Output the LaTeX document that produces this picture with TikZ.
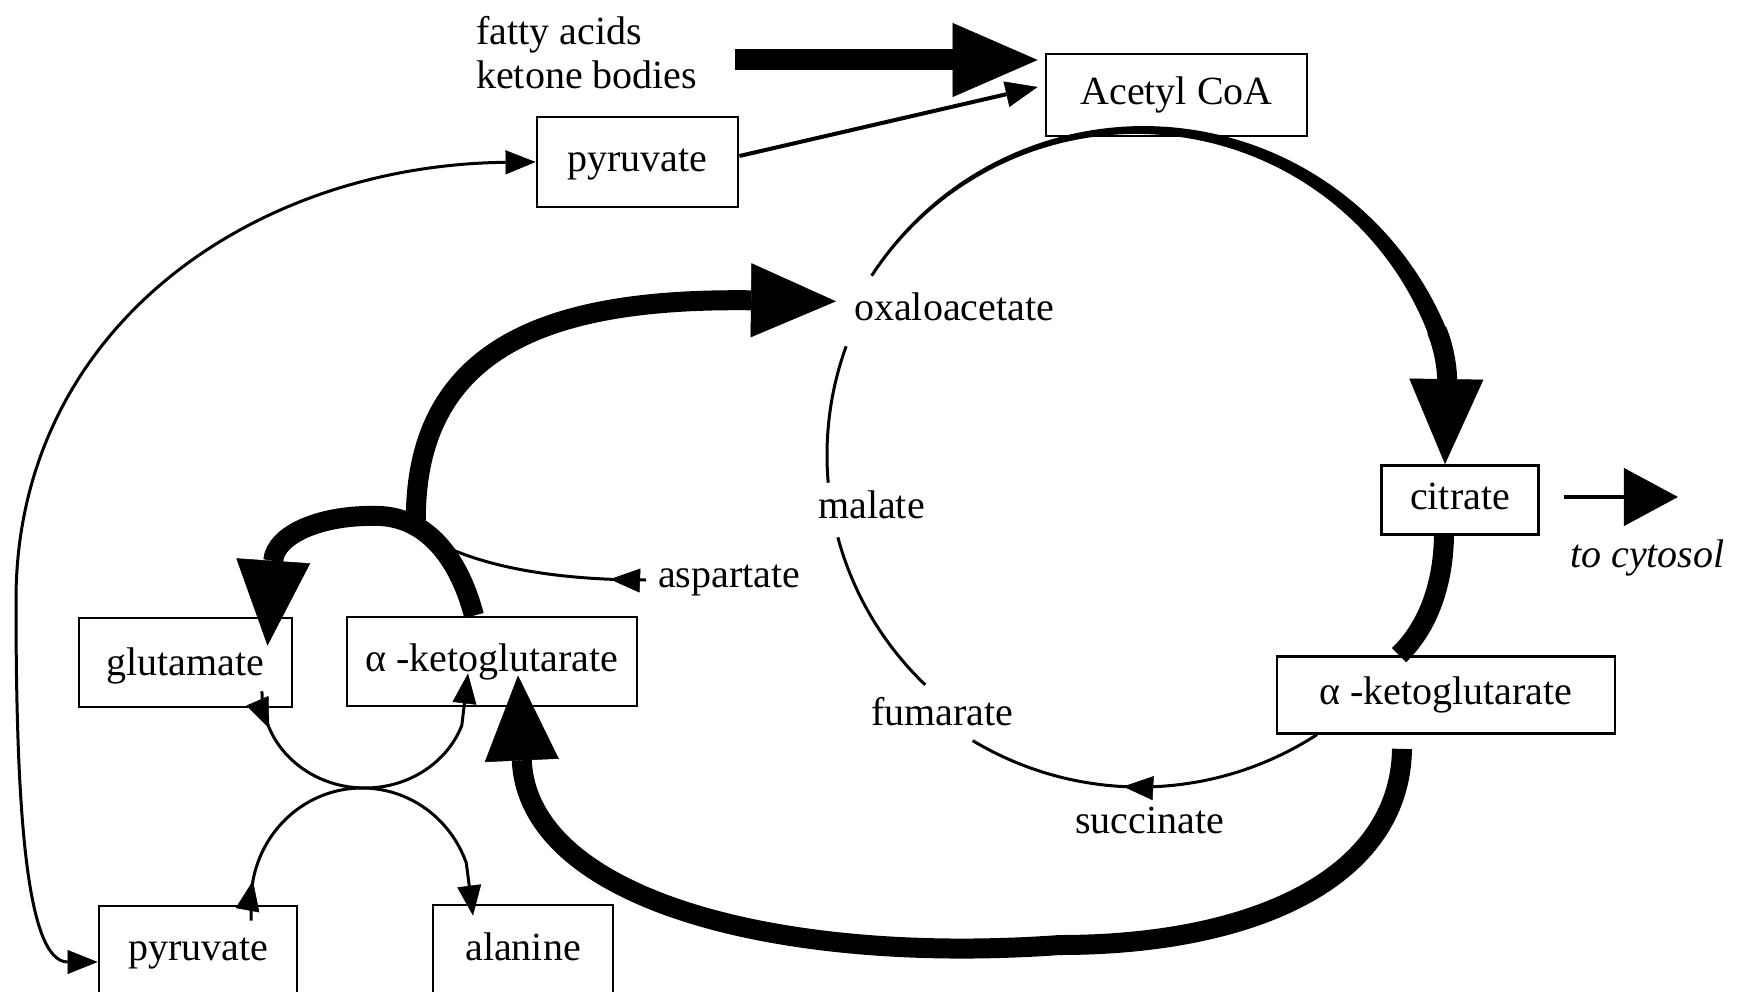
\documentclass[tikz,border=0pt]{standalone}
\usepackage{fontspec}
\setmainfont{Liberation Serif}
\usetikzlibrary{arrows.meta,calc,decorations.markings}
\tikzset{
  bigtip/.tip={Triangle[length=85pt,width=74pt,line width=0.5pt]},
  smalltip/.tip={Triangle[length=30pt,width=24pt,line width=0.5pt]},
  midtip/.tip={Triangle[length=32pt,width=26pt,line width=0.5pt]},
  cyttip/.tip={Triangle[length=54pt,width=58pt,line width=0.5pt]},
  box/.style={draw, line width=2.8pt, inner sep=0pt, text height=28pt, text depth=9pt},
  lbl/.style={inner sep=0pt, anchor=base west},
  heavy/.style={line width=20pt},
  fine/.style={line width=3pt},
  markarrow/.style={postaction={decorate}, decoration={markings, mark=at position #1 with {\arrow{smalltip}}}},
}
\begin{document}
\begin{tikzpicture}[x=1pt,y=-1pt, every node/.style={font=\fontsize{40pt}{44pt}\selectfont}]
\useasboundingbox (0,0) rectangle (1748,992);
\clip (0,0) rectangle (1748,992);

% boxes
\node[box, minimum width=261pt, minimum height=82pt] (acetyl) at (1176.5,95) {Acetyl CoA};
\node[box, minimum width=201pt, minimum height=90pt] (pyr1) at (637.5,162) {pyruvate};
\node[box, minimum width=157pt, minimum height=69pt] (citrate) at (1460,500) {citrate};
\node[box, minimum width=338pt, minimum height=77pt] (akg2) at (1446,695) {α -ketoglutarate};
\node[box, minimum width=213pt, minimum height=89pt, text depth=3pt] (glu) at (185.5,662.5) {glutamate};
\node[box, minimum width=290pt, minimum height=89pt] (akg1) at (492,661.5) {α -ketoglutarate};
\node[box, minimum width=198pt, minimum height=90pt] (pyr2) at (198,951) {pyruvate};
\node[box, minimum width=180pt, minimum height=92pt] (ala) at (523,951) {alanine};

% free labels
\node[lbl] (fa) at (476,45) {fatty acids};
\node[lbl] (kb) at (476,89) {ketone bodies};
\node[lbl] (oxalo) at (854,320) {oxaloacetate};
\node[lbl] (malate) at (818,518) {malate};
\node[lbl] (fumarate) at (871,725) {fumarate};
\node[lbl] (succinate) at (1075,833) {succinate};
\node[lbl] (asp) at (658,587) {aspartate};
\node[lbl, font=\fontsize{40pt}{44pt}\selectfont\itshape] (cytosol) at (1570,567) {to cytosol};

% helper coordinates
\coordinate (cyc) at (1140,450);
\coordinate (cyc2) at (1145,455);
\coordinate (cyc3) at (1140,462);
\coordinate (fastart) at (735,60);
\coordinate (junc) at (416,530);

% fatty acids / ketone bodies -> Acetyl CoA
\draw[line width=21pt, -bigtip, shorten >=7pt] (fastart) -- (fastart -| acetyl.west);
% pyruvate -> Acetyl CoA
\draw[line width=4pt, -midtip] ([yshift=6pt]pyr1.east) -- ([xshift=-7pt,yshift=8pt]acetyl.west);
% pyruvate <-> pyruvate
\draw[fine, smalltip-smalltip] (pyr1.west) .. controls (250,165) and (16,330) .. (16,600)
  .. controls (16,800) and (25,962) .. ([yshift=-11pt]pyr2.west);

% tapered cycle arc from oxaloacetate to citrate
\fill plot[domain=-147:-20,samples=90,variable=\t]
  ({1140+(320+(1.5+8.5*((\t+147.5)/132.5)^1.5))*cos(\t)},{450+(320+(1.5+8.5*((\t+147.5)/132.5)^1.5))*sin(\t)})
  -- plot[domain=-20:-147,samples=90,variable=\t]
  ({1140+(320-(1.5+8.5*((\t+147.5)/132.5)^1.5))*cos(\t)},{450+(320-(1.5+8.5*((\t+147.5)/132.5)^1.5))*sin(\t)})
  -- cycle;
\draw[heavy, -bigtip] ($(cyc)+(-22:320)$) .. controls (1451.7,367) and (1446,400) .. ([xshift=-15pt]citrate.north);
% citrate -> alpha-ketoglutarate
\draw[heavy] ([xshift=-16pt]citrate.south) .. controls (1443,590) and (1425,630) .. ([xshift=-47pt]akg2.north);
% citrate -> to cytosol
\draw[line width=4pt, -cyttip, shorten <=24pt] ([yshift=3pt]citrate.east) -- ([xshift=138pt,yshift=3pt]citrate.east);

% thin cycle arcs
\draw[fine] ($(cyc2)+(200:318)$) arc[start angle=200,end angle=175,radius=318];
\draw[fine] ($(cyc2)+(165:318)$) arc[start angle=165,end angle=133.7,radius=318];
\draw[fine, markarrow=204pt] ($(cyc3)+(57:325)$) arc[start angle=57,end angle=121,radius=325];

% alpha-ketoglutarate -> glutamate, and -> oxaloacetate
\draw[heavy, -bigtip] ([xshift=-18pt]akg1.north) .. controls (458,555) and (425,518) .. (380,516)
  .. controls (320,514) and (275,535) .. ([xshift=82pt,yshift=-29pt]glu.north);
\draw[heavy, -bigtip] (junc) .. controls (410,340) and (560,298) .. ([xshift=-18pt,yshift=5pt]oxalo.west);
% aspartate
\draw[fine, markarrow=36pt] ([xshift=-12pt]asp.west) .. controls (560,580) and (470,568) .. (junc);

% alpha-ketoglutarate (cycle) -> alpha-ketoglutarate
\draw[heavy, -bigtip] ([xshift=-44pt,yshift=-14pt]akg2.south) .. controls (1400,880) and (1250,945) .. (1060,945)
  .. controls (780,965) and (528,900) .. ([xshift=26pt,yshift=-14pt]akg1.center);

% transamination
\draw[fine, markarrow=38pt, -smalltip] ([xshift=76pt,yshift=17pt]glu.south) -- (262,693)
  arc[start angle=180,end angle=20,x radius=103,y radius=95] -- ([xshift=-24pt,yshift=-12pt]akg1.center);
\draw[fine, markarrow=40pt, -smalltip] ([xshift=53pt,yshift=-16pt]pyr2.north) -- (251,902)
  arc[start angle=180,end angle=340,x radius=111,y radius=114] -- ([xshift=-50pt,yshift=-12pt]ala.north);
\end{tikzpicture}
\end{document}
